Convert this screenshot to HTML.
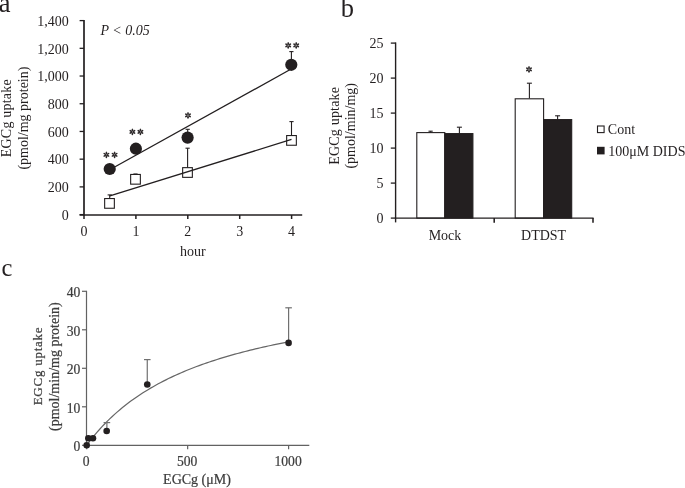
<!DOCTYPE html>
<html><head><meta charset="utf-8"><style>
html,body{margin:0;padding:0;background:#fff;width:685px;height:488px;overflow:hidden}
svg{display:block;will-change:transform}
text{font-family:"Liberation Serif",serif;fill:#231f20}
.pc text{fill:#3d3d3d;stroke:#3d3d3d;stroke-width:0.22}
</style></head><body>
<svg width="685" height="488" viewBox="0 0 685 488">
<rect width="685" height="488" fill="#fff"/>
<text x="-1.2" y="11.8" font-size="26.5">a</text>
<line x1="84.0" y1="20.0" x2="84.0" y2="215.8" stroke="#231f20" stroke-width="1.7"/>
<line x1="79.6" y1="214.60" x2="84.0" y2="214.60" stroke="#231f20" stroke-width="1.3"/>
<text x="68.7" y="219.80" font-size="14" text-anchor="end">0</text>
<line x1="79.6" y1="186.89" x2="84.0" y2="186.89" stroke="#231f20" stroke-width="1.3"/>
<text x="68.7" y="192.09" font-size="14" text-anchor="end">200</text>
<line x1="79.6" y1="159.17" x2="84.0" y2="159.17" stroke="#231f20" stroke-width="1.3"/>
<text x="68.7" y="164.37" font-size="14" text-anchor="end">400</text>
<line x1="79.6" y1="131.46" x2="84.0" y2="131.46" stroke="#231f20" stroke-width="1.3"/>
<text x="68.7" y="136.66" font-size="14" text-anchor="end">600</text>
<line x1="79.6" y1="103.74" x2="84.0" y2="103.74" stroke="#231f20" stroke-width="1.3"/>
<text x="68.7" y="108.94" font-size="14" text-anchor="end">800</text>
<line x1="79.6" y1="76.03" x2="84.0" y2="76.03" stroke="#231f20" stroke-width="1.3"/>
<text x="68.7" y="81.23" font-size="14" text-anchor="end">1,000</text>
<line x1="79.6" y1="48.32" x2="84.0" y2="48.32" stroke="#231f20" stroke-width="1.3"/>
<text x="68.7" y="53.52" font-size="14" text-anchor="end">1,200</text>
<line x1="79.6" y1="20.60" x2="84.0" y2="20.60" stroke="#231f20" stroke-width="1.3"/>
<text x="68.7" y="25.80" font-size="14" text-anchor="end">1,400</text>
<line x1="79.6" y1="215.0" x2="302.2" y2="215.0" stroke="#231f20" stroke-width="1.7"/>
<line x1="84.00" y1="215.0" x2="84.00" y2="219.0" stroke="#231f20" stroke-width="1.5"/>
<text x="84.00" y="235.8" font-size="14" text-anchor="middle">0</text>
<line x1="135.90" y1="215.0" x2="135.90" y2="219.0" stroke="#231f20" stroke-width="1.5"/>
<text x="135.90" y="235.8" font-size="14" text-anchor="middle">1</text>
<line x1="187.80" y1="215.0" x2="187.80" y2="219.0" stroke="#231f20" stroke-width="1.5"/>
<text x="187.80" y="235.8" font-size="14" text-anchor="middle">2</text>
<line x1="239.70" y1="215.0" x2="239.70" y2="219.0" stroke="#231f20" stroke-width="1.5"/>
<text x="239.70" y="235.8" font-size="14" text-anchor="middle">3</text>
<line x1="291.60" y1="215.0" x2="291.60" y2="219.0" stroke="#231f20" stroke-width="1.5"/>
<text x="291.60" y="235.8" font-size="14" text-anchor="middle">4</text>
<text x="192.8" y="255.9" font-size="14" text-anchor="middle">hour</text>
<text transform="translate(11.3,118.2) rotate(-90)" font-size="14" letter-spacing="0.2" text-anchor="middle">EGCg uptake</text>
<text transform="translate(28.0,118.1) rotate(-90)" font-size="14" text-anchor="middle">(pmol/mg protein)</text>
<text x="100.4" y="35.1" font-size="14" font-style="italic">P &lt; 0.05</text>
<line x1="187.7" y1="137.6" x2="187.7" y2="129.3" stroke="#231f20" stroke-width="1.1"/><line x1="185.6" y1="129.3" x2="189.79999999999998" y2="129.3" stroke="#231f20" stroke-width="1.1"/>
<line x1="291.4" y1="64.8" x2="291.4" y2="51.6" stroke="#231f20" stroke-width="1.1"/><line x1="289.29999999999995" y1="51.6" x2="293.5" y2="51.6" stroke="#231f20" stroke-width="1.1"/>
<line x1="109.7" y1="203.4" x2="109.7" y2="194.9" stroke="#231f20" stroke-width="1.1"/><line x1="107.60000000000001" y1="194.9" x2="111.8" y2="194.9" stroke="#231f20" stroke-width="1.1"/>
<line x1="135.5" y1="179.3" x2="135.5" y2="174.0" stroke="#231f20" stroke-width="1.1"/><line x1="133.4" y1="174.0" x2="137.6" y2="174.0" stroke="#231f20" stroke-width="1.1"/>
<line x1="187.6" y1="172.5" x2="187.6" y2="148.2" stroke="#231f20" stroke-width="1.1"/><line x1="185.5" y1="148.2" x2="189.7" y2="148.2" stroke="#231f20" stroke-width="1.1"/>
<line x1="291.5" y1="140.4" x2="291.5" y2="121.6" stroke="#231f20" stroke-width="1.1"/><line x1="289.4" y1="121.6" x2="293.6" y2="121.6" stroke="#231f20" stroke-width="1.1"/>
<rect x="104.65" y="198.55" width="9.7" height="9.7" fill="#fff" stroke="#231f20" stroke-width="1.1"/>
<rect x="130.65" y="174.45" width="9.7" height="9.7" fill="#fff" stroke="#231f20" stroke-width="1.1"/>
<rect x="182.65" y="167.65" width="9.7" height="9.7" fill="#fff" stroke="#231f20" stroke-width="1.1"/>
<rect x="286.65" y="135.55" width="9.7" height="9.7" fill="#fff" stroke="#231f20" stroke-width="1.1"/>
<line x1="109.7" y1="169.8" x2="291.6" y2="68.8" stroke="#231f20" stroke-width="1.3"/>
<line x1="109.9" y1="195.9" x2="291.5" y2="139.4" stroke="#231f20" stroke-width="1.3"/>
<circle cx="109.7" cy="169" r="6.1" fill="#231f20"/>
<circle cx="135.9" cy="148.7" r="6.1" fill="#231f20"/>
<circle cx="187.6" cy="137.6" r="6.1" fill="#231f20"/>
<circle cx="291.3" cy="64.8" r="6.1" fill="#231f20"/>
<g fill="#2e2a2b"><ellipse cx="106.40" cy="152.95" rx="1.55" ry="0.85" transform="rotate(-90 106.40 152.95)"/><ellipse cx="108.00" cy="153.88" rx="1.55" ry="0.85" transform="rotate(-30 108.00 153.88)"/><ellipse cx="108.00" cy="155.73" rx="1.55" ry="0.85" transform="rotate(30 108.00 155.73)"/><ellipse cx="106.40" cy="156.65" rx="1.55" ry="0.85" transform="rotate(90 106.40 156.65)"/><ellipse cx="104.80" cy="153.88" rx="1.55" ry="0.85" transform="rotate(-150 104.80 153.88)"/><ellipse cx="104.80" cy="155.73" rx="1.55" ry="0.85" transform="rotate(-210 104.80 155.73)"/></g>
<g fill="#2e2a2b"><ellipse cx="114.60" cy="152.95" rx="1.55" ry="0.85" transform="rotate(-90 114.60 152.95)"/><ellipse cx="116.20" cy="153.88" rx="1.55" ry="0.85" transform="rotate(-30 116.20 153.88)"/><ellipse cx="116.20" cy="155.73" rx="1.55" ry="0.85" transform="rotate(30 116.20 155.73)"/><ellipse cx="114.60" cy="156.65" rx="1.55" ry="0.85" transform="rotate(90 114.60 156.65)"/><ellipse cx="113.00" cy="153.88" rx="1.55" ry="0.85" transform="rotate(-150 113.00 153.88)"/><ellipse cx="113.00" cy="155.73" rx="1.55" ry="0.85" transform="rotate(-210 113.00 155.73)"/></g>
<g fill="#2e2a2b"><ellipse cx="132.40" cy="130.05" rx="1.55" ry="0.85" transform="rotate(-90 132.40 130.05)"/><ellipse cx="134.00" cy="130.97" rx="1.55" ry="0.85" transform="rotate(-30 134.00 130.97)"/><ellipse cx="134.00" cy="132.83" rx="1.55" ry="0.85" transform="rotate(30 134.00 132.83)"/><ellipse cx="132.40" cy="133.75" rx="1.55" ry="0.85" transform="rotate(90 132.40 133.75)"/><ellipse cx="130.80" cy="130.97" rx="1.55" ry="0.85" transform="rotate(-150 130.80 130.97)"/><ellipse cx="130.80" cy="132.83" rx="1.55" ry="0.85" transform="rotate(-210 130.80 132.83)"/></g>
<g fill="#2e2a2b"><ellipse cx="140.40" cy="130.05" rx="1.55" ry="0.85" transform="rotate(-90 140.40 130.05)"/><ellipse cx="142.00" cy="130.97" rx="1.55" ry="0.85" transform="rotate(-30 142.00 130.97)"/><ellipse cx="142.00" cy="132.83" rx="1.55" ry="0.85" transform="rotate(30 142.00 132.83)"/><ellipse cx="140.40" cy="133.75" rx="1.55" ry="0.85" transform="rotate(90 140.40 133.75)"/><ellipse cx="138.80" cy="130.97" rx="1.55" ry="0.85" transform="rotate(-150 138.80 130.97)"/><ellipse cx="138.80" cy="132.83" rx="1.55" ry="0.85" transform="rotate(-210 138.80 132.83)"/></g>
<g fill="#2e2a2b"><ellipse cx="188.00" cy="113.55" rx="1.55" ry="0.85" transform="rotate(-90 188.00 113.55)"/><ellipse cx="189.60" cy="114.48" rx="1.55" ry="0.85" transform="rotate(-30 189.60 114.48)"/><ellipse cx="189.60" cy="116.33" rx="1.55" ry="0.85" transform="rotate(30 189.60 116.33)"/><ellipse cx="188.00" cy="117.25" rx="1.55" ry="0.85" transform="rotate(90 188.00 117.25)"/><ellipse cx="186.40" cy="114.48" rx="1.55" ry="0.85" transform="rotate(-150 186.40 114.48)"/><ellipse cx="186.40" cy="116.33" rx="1.55" ry="0.85" transform="rotate(-210 186.40 116.33)"/></g>
<g fill="#2e2a2b"><ellipse cx="288.20" cy="43.55" rx="1.55" ry="0.85" transform="rotate(-90 288.20 43.55)"/><ellipse cx="289.80" cy="44.48" rx="1.55" ry="0.85" transform="rotate(-30 289.80 44.48)"/><ellipse cx="289.80" cy="46.32" rx="1.55" ry="0.85" transform="rotate(30 289.80 46.32)"/><ellipse cx="288.20" cy="47.25" rx="1.55" ry="0.85" transform="rotate(90 288.20 47.25)"/><ellipse cx="286.60" cy="44.48" rx="1.55" ry="0.85" transform="rotate(-150 286.60 44.48)"/><ellipse cx="286.60" cy="46.32" rx="1.55" ry="0.85" transform="rotate(-210 286.60 46.32)"/></g>
<g fill="#2e2a2b"><ellipse cx="296.20" cy="43.55" rx="1.55" ry="0.85" transform="rotate(-90 296.20 43.55)"/><ellipse cx="297.80" cy="44.48" rx="1.55" ry="0.85" transform="rotate(-30 297.80 44.48)"/><ellipse cx="297.80" cy="46.32" rx="1.55" ry="0.85" transform="rotate(30 297.80 46.32)"/><ellipse cx="296.20" cy="47.25" rx="1.55" ry="0.85" transform="rotate(90 296.20 47.25)"/><ellipse cx="294.60" cy="44.48" rx="1.55" ry="0.85" transform="rotate(-150 294.60 44.48)"/><ellipse cx="294.60" cy="46.32" rx="1.55" ry="0.85" transform="rotate(-210 294.60 46.32)"/></g>
<text x="340.8" y="17.4" font-size="26.5">b</text>
<line x1="395.6" y1="42.4" x2="395.6" y2="222.4" stroke="#231f20" stroke-width="1.4"/>
<line x1="390.8" y1="218.10" x2="395.6" y2="218.10" stroke="#231f20" stroke-width="1.3"/>
<text x="383.4" y="222.90" font-size="14" text-anchor="end">0</text>
<line x1="390.8" y1="183.10" x2="395.6" y2="183.10" stroke="#231f20" stroke-width="1.3"/>
<text x="383.4" y="187.90" font-size="14" text-anchor="end">5</text>
<line x1="390.8" y1="148.10" x2="395.6" y2="148.10" stroke="#231f20" stroke-width="1.3"/>
<text x="383.4" y="152.90" font-size="14" text-anchor="end">10</text>
<line x1="390.8" y1="113.10" x2="395.6" y2="113.10" stroke="#231f20" stroke-width="1.3"/>
<text x="383.4" y="117.90" font-size="14" text-anchor="end">15</text>
<line x1="390.8" y1="78.10" x2="395.6" y2="78.10" stroke="#231f20" stroke-width="1.3"/>
<text x="383.4" y="82.90" font-size="14" text-anchor="end">20</text>
<line x1="390.8" y1="43.10" x2="395.6" y2="43.10" stroke="#231f20" stroke-width="1.3"/>
<text x="383.4" y="47.90" font-size="14" text-anchor="end">25</text>
<line x1="430.6" y1="132.4" x2="430.6" y2="131.2" stroke="#231f20" stroke-width="1.1"/><line x1="428.5" y1="131.2" x2="432.70000000000005" y2="131.2" stroke="#231f20" stroke-width="1.1"/>
<line x1="459.4" y1="133.4" x2="459.4" y2="127.2" stroke="#231f20" stroke-width="1.1"/><line x1="456.9" y1="127.2" x2="461.9" y2="127.2" stroke="#231f20" stroke-width="1.1"/>
<line x1="529.4" y1="98.6" x2="529.4" y2="83.2" stroke="#231f20" stroke-width="1.1"/><line x1="526.9" y1="83.2" x2="531.9" y2="83.2" stroke="#231f20" stroke-width="1.1"/>
<line x1="557.6" y1="119.4" x2="557.6" y2="115.8" stroke="#231f20" stroke-width="1.1"/><line x1="555.1" y1="115.8" x2="560.1" y2="115.8" stroke="#231f20" stroke-width="1.1"/>
<rect x="416.8" y="132.6" width="28.0" height="85.5" fill="#fff" stroke="#231f20" stroke-width="1.1"/>
<rect x="444.8" y="133.6" width="28.099999999999966" height="84.5" fill="#231f20" stroke="#231f20" stroke-width="1.1"/>
<rect x="515.2" y="98.8" width="28.399999999999977" height="119.3" fill="#fff" stroke="#231f20" stroke-width="1.1"/>
<rect x="543.6" y="119.6" width="28.100000000000023" height="98.5" fill="#231f20" stroke="#231f20" stroke-width="1.1"/>
<line x1="394.90000000000003" y1="218.1" x2="593.6" y2="218.1" stroke="#231f20" stroke-width="1.4"/>
<line x1="494.2" y1="218.1" x2="494.2" y2="222.7" stroke="#231f20" stroke-width="1.55"/>
<line x1="593.0" y1="218.1" x2="593.0" y2="222.7" stroke="#231f20" stroke-width="1.55"/>
<text x="445" y="239.6" font-size="14" text-anchor="middle">Mock</text>
<text x="543.6" y="239.6" font-size="14" text-anchor="middle">DTDST</text>
<g fill="#2e2a2b"><ellipse cx="529.00" cy="67.55" rx="1.55" ry="0.85" transform="rotate(-90 529.00 67.55)"/><ellipse cx="530.60" cy="68.48" rx="1.55" ry="0.85" transform="rotate(-30 530.60 68.48)"/><ellipse cx="530.60" cy="70.33" rx="1.55" ry="0.85" transform="rotate(30 530.60 70.33)"/><ellipse cx="529.00" cy="71.25" rx="1.55" ry="0.85" transform="rotate(90 529.00 71.25)"/><ellipse cx="527.40" cy="68.48" rx="1.55" ry="0.85" transform="rotate(-150 527.40 68.48)"/><ellipse cx="527.40" cy="70.33" rx="1.55" ry="0.85" transform="rotate(-210 527.40 70.33)"/></g>
<text transform="translate(339.0,125.8) rotate(-90)" font-size="14" letter-spacing="0.2" text-anchor="middle">EGCg uptake</text>
<text transform="translate(354.7,125.8) rotate(-90)" font-size="14" text-anchor="middle">(pmol/min/mg)</text>
<rect x="597.5" y="126" width="6.6" height="6.6" fill="#fff" stroke="#231f20" stroke-width="1.1"/>
<rect x="597" y="146.8" width="7.6" height="7.6" fill="#231f20"/>
<text x="607.8" y="133.7" font-size="14">Cont</text>
<text x="608.3" y="156" font-size="14">100μM DIDS</text>
<text x="1.5" y="275.6" font-size="24.5">c</text>
<g class="pc">
<line x1="86.5" y1="290.8" x2="86.5" y2="445.8" stroke="#626262" stroke-width="1.2"/>
<line x1="82" y1="445.30" x2="86.5" y2="445.30" stroke="#626262" stroke-width="1.2"/>
<text x="80.3" y="451.10" font-size="13.6" text-anchor="end">0</text>
<line x1="82" y1="406.80" x2="86.5" y2="406.80" stroke="#626262" stroke-width="1.2"/>
<text x="80.3" y="412.60" font-size="13.6" text-anchor="end">10</text>
<line x1="82" y1="368.30" x2="86.5" y2="368.30" stroke="#626262" stroke-width="1.2"/>
<text x="80.3" y="374.10" font-size="13.6" text-anchor="end">20</text>
<line x1="82" y1="329.80" x2="86.5" y2="329.80" stroke="#626262" stroke-width="1.2"/>
<text x="80.3" y="335.60" font-size="13.6" text-anchor="end">30</text>
<line x1="82" y1="291.30" x2="86.5" y2="291.30" stroke="#626262" stroke-width="1.2"/>
<text x="80.3" y="297.10" font-size="13.6" text-anchor="end">40</text>
<line x1="85.9" y1="445.4" x2="309.3" y2="445.4" stroke="#626262" stroke-width="1.2"/>
<line x1="86.70" y1="445.4" x2="86.70" y2="449.2" stroke="#626262" stroke-width="1.2"/>
<text x="86.20" y="465.9" font-size="13.6" text-anchor="middle">0</text>
<line x1="187.65" y1="445.4" x2="187.65" y2="449.2" stroke="#626262" stroke-width="1.2"/>
<text x="187.15" y="465.9" font-size="13.6" text-anchor="middle">500</text>
<line x1="288.60" y1="445.4" x2="288.60" y2="449.2" stroke="#626262" stroke-width="1.2"/>
<text x="288.10" y="465.9" font-size="13.6" text-anchor="middle">1000</text>
<text x="197" y="484.4" font-size="14" text-anchor="middle">EGCg (μM)</text>
<text transform="translate(41.6,366.0) rotate(-90)" font-size="13" letter-spacing="0.75" text-anchor="middle" >EGCg uptake</text>
<text transform="translate(58.5,366.6) rotate(-90)" font-size="14" text-anchor="middle">(pmol/min/mg protein)</text>
</g>
<polyline points="86.70,445.30 89.26,441.88 91.81,438.60 94.37,435.45 96.92,432.42 99.48,429.50 102.03,426.70 104.59,424.00 107.15,421.39 109.70,418.88 112.26,416.46 114.81,414.12 117.37,411.86 119.92,409.67 122.48,407.55 125.04,405.50 127.59,403.52 130.15,401.60 132.70,399.74 135.26,397.93 137.81,396.18 140.37,394.47 142.93,392.82 145.48,391.21 148.04,389.65 150.59,388.13 153.15,386.66 155.70,385.22 158.26,383.82 160.82,382.46 163.37,381.13 165.93,379.84 168.48,378.58 171.04,377.35 173.59,376.15 176.15,374.98 178.71,373.84 181.26,372.72 183.82,371.64 186.37,370.57 188.93,369.53 191.48,368.52 194.04,367.52 196.59,366.55 199.15,365.60 201.71,364.68 204.26,363.77 206.82,362.88 209.37,362.00 211.93,361.15 214.48,360.32 217.04,359.50 219.60,358.69 222.15,357.91 224.71,357.14 227.26,356.38 229.82,355.64 232.37,354.91 234.93,354.20 237.49,353.50 240.04,352.81 242.60,352.14 245.15,351.48 247.71,350.83 250.26,350.19 252.82,349.56 255.38,348.95 257.93,348.34 260.49,347.75 263.04,347.16 265.60,346.59 268.15,346.03 270.71,345.47 273.27,344.92 275.82,344.39 278.38,343.86 280.93,343.34 283.49,342.83 286.04,342.33 288.60,341.83" fill="none" stroke="#666" stroke-width="1.2"/>
<line x1="147.27" y1="384.47" x2="147.27" y2="359.6" stroke="#707070" stroke-width="1.2"/><line x1="143.97" y1="359.6" x2="150.57000000000002" y2="359.6" stroke="#707070" stroke-width="1.2"/>
<line x1="288.6" y1="342.89" x2="288.6" y2="307.8" stroke="#707070" stroke-width="1.2"/><line x1="285.3" y1="307.8" x2="291.90000000000003" y2="307.8" stroke="#707070" stroke-width="1.2"/>
<line x1="106.89" y1="431.055" x2="106.89" y2="422.6" stroke="#707070" stroke-width="1.2"/><line x1="103.59" y1="422.6" x2="110.19" y2="422.6" stroke="#707070" stroke-width="1.2"/>
<circle cx="86.70" cy="445.30" r="3.3" fill="#231f20"/>
<circle cx="88.32" cy="438.22" r="3.3" fill="#231f20"/>
<circle cx="92.96" cy="438.22" r="3.3" fill="#231f20"/>
<circle cx="106.69" cy="431.06" r="3.3" fill="#231f20"/>
<circle cx="147.27" cy="384.47" r="3.3" fill="#231f20"/>
<circle cx="288.60" cy="342.89" r="3.3" fill="#231f20"/>
</svg>
</body></html>
